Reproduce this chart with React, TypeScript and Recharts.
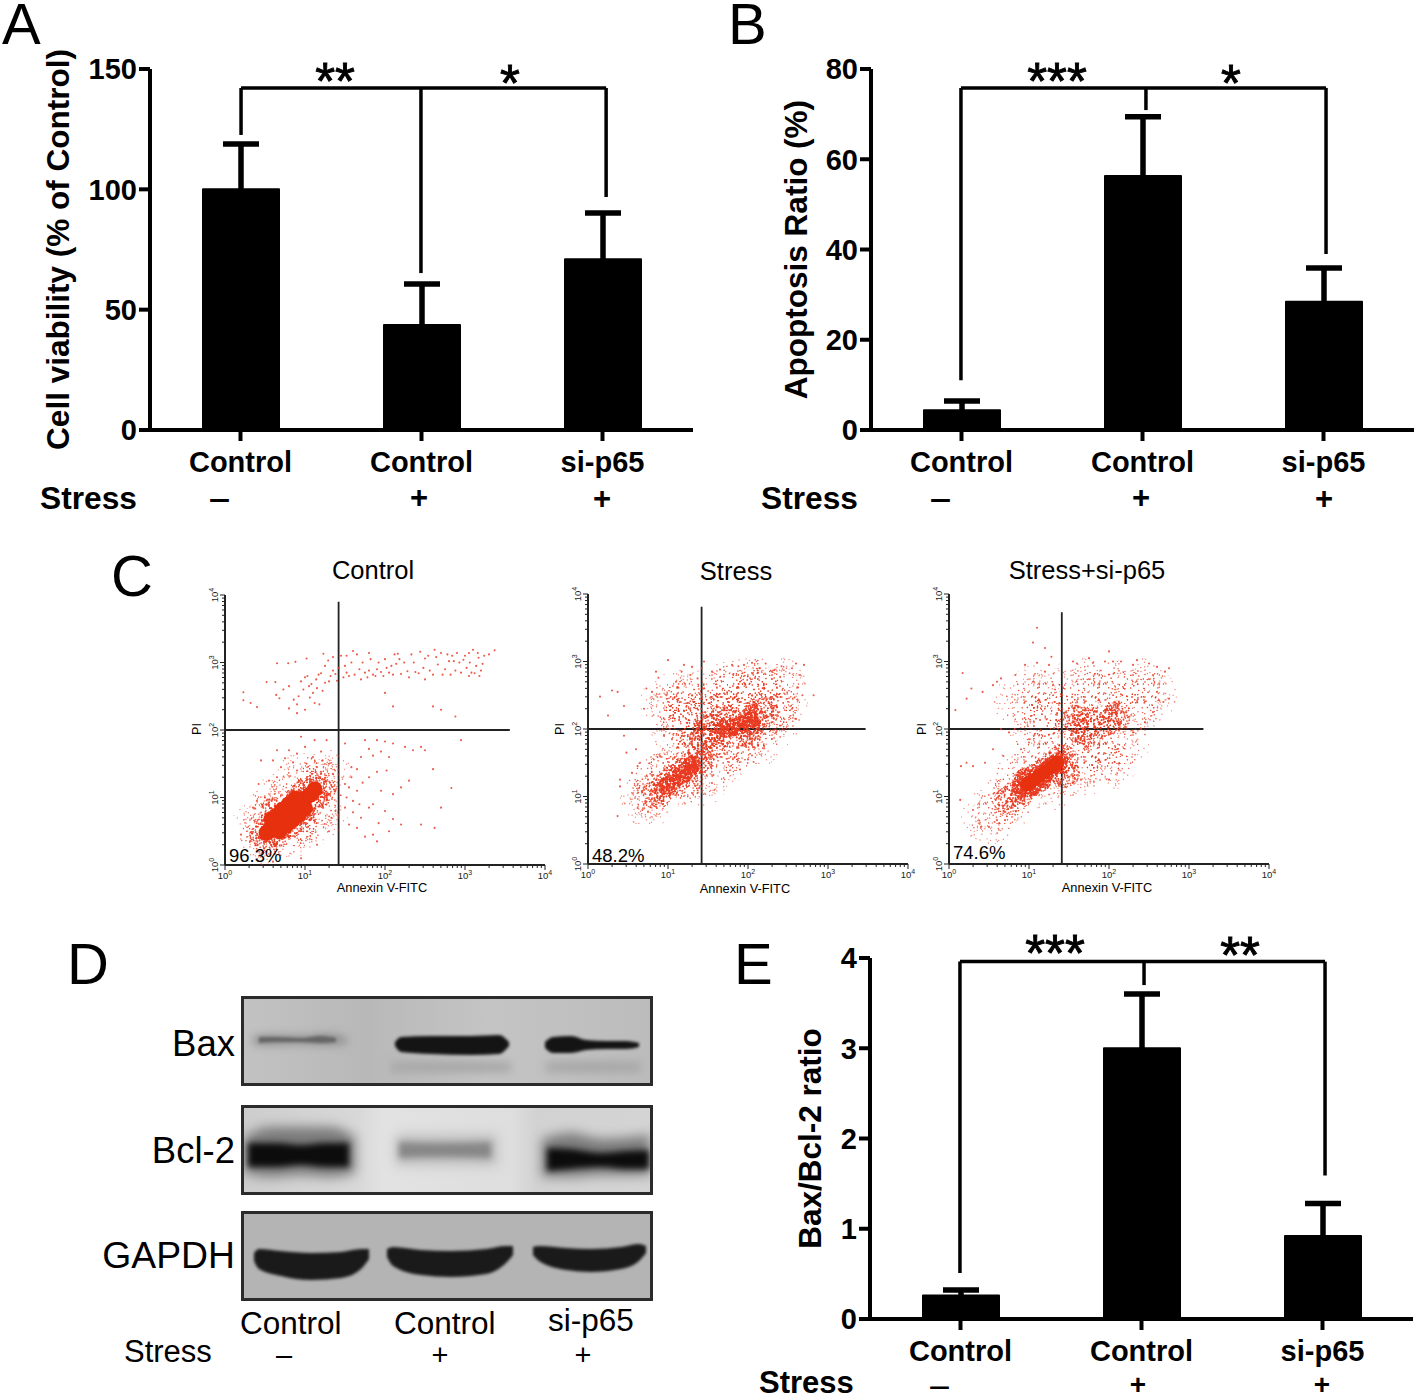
import React from 'react';
import { BarChart, Bar, XAxis, YAxis, ErrorBar, ReferenceLine, ScatterChart, Scatter, ComposedChart, Area } from 'recharts';

const FONT = '"Liberation Sans", Arial, sans-serif';

// ---------- bar panels ----------
const groupKeys = ['c1', 'c2', 'c3'];
const groupLabels = ['Control', 'Control', 'si-p65'];

const viabilityValues = [100, 43.6, 71];
const viabilityErrors = [18.8, 17.1, 19.2];
const viabilityTicks = [0, 50, 100, 150];
const viabilityBracket = { top: 142.1, xs: [0.503, 1.497, 2.52], drops: [122.6, 65.2, 96.8] };

const apoptosisValues = [4.4, 56.3, 28.4];
const apoptosisErrors = [2, 13.1, 7.5];
const apoptosisTicks = [0, 20, 40, 60, 80];
const apoptosisBracket = { top: 75.8, xs: [0.497, 1.519, 2.514], drops: [11, 70.9, 39] };

const ratioValues = [0.26, 3.0, 0.92];
const ratioErrors = [0.06, 0.6, 0.36];
const ratioTicks = [0, 1, 2, 3, 4];
const ratioBracket = { top: 3.96, xs: [0.497, 1.514, 2.514], drops: [0.51, 3.7, 1.59] };

// ---------- flow cytometry panels (log10 decades) ----------
const controlHaze = [[.55,.4],[.7,.55],[.85,.7],[1.0,.9],[1.15,1.15],[.45,.65],[.7,.95],[.95,1.25],[1.2,.8],[.95,.55],[1.25,1.3]];
const controlDense = [[.48,.4],[.55,.55],[.65,.48],[.7,.7],[.8,.62],[.85,.9],[.95,.8],[1.0,1.05],[1.1,.98],[1.15,1.15],[.62,.78]];
const controlCore = [[.52,.48],[.58,.54],[.64,.6],[.7,.66],[.76,.73],[.82,.8],[.88,.86],[.94,.92],[1.0,.98],[1.06,1.04],[1.12,1.12],[.58,.68],[.66,.74],[.72,.82],[.8,.9],[.88,.98],[.68,.5],[.76,.58],[.84,.66],[.92,.74],[1.0,.84]];
const controlDots = [
  [.23,2.56],[.23,2.44],[.32,2.4],[.4,2.34],[.52,2.71],[.63,2.71],[.65,2.99],[.79,2.99],[.88,3.01],[1.02,3.06],[1.23,3.13],[1.29,3.03],
  [.64,2.52],[.68,2.47],[.73,2.6],[.8,2.65],[.86,2.45],[.9,2.38],[.95,2.72],[1.0,2.78],[1.03,2.8],[1.08,2.68],[1.1,2.55],[1.12,2.4],
  [1.14,2.75],[1.17,2.82],[1.2,2.84],[1.25,2.7],[1.32,2.8],[1.38,2.83],[1.4,2.73],[1.45,3.1],[1.5,2.95],[1.55,2.8],[1.6,3.17],[1.65,3.12],
  [1.7,2.75],[1.75,2.85],[1.8,3.14],[1.85,2.82],[1.9,2.9],[1.95,2.86],[1.8,2.88],[2.0,3.05],[2.05,2.85],[2.08,2.95],[2.12,3.12],[2.16,3.13],
  [2.2,2.83],[2.28,2.87],[2.33,3.12],[2.38,2.86],[2.44,3.16],[2.5,3.06],[2.56,2.88],[2.62,3.19],[2.66,2.97],[2.7,3.14],[2.75,2.9],[2.8,3.02],
  [2.84,3.1],[2.88,2.88],[2.93,3.0],[2.98,3.04],[3.02,2.92],[3.05,3.14],[3.08,2.85],[3.1,3.19],[3.14,2.95],[3.17,3.07],[3.2,2.88],[3.24,3.1],
  [3.3,3.12],[3.05,2.8],[3.18,2.8],[3.37,3.18],[2.5,2.75],[2.0,2.55],[2.1,2.35],[2.6,2.35],[2.7,2.3],[2.88,2.2],[.8,2.32],[.9,2.25],[1.0,2.3],
  [1.35,2.88],[1.42,2.92],[1.48,2.78],[1.52,2.85],[1.58,3.0],[1.62,2.82],[1.68,2.9],[1.72,3.0],[1.78,2.78],[1.82,3.05],[1.88,2.8],[1.92,3.0],
  [1.98,2.8],[2.02,2.92],[2.1,2.82],[2.14,2.98],[2.18,3.05],[2.24,3.0],[2.3,2.78],[2.36,3.0],[2.42,2.84],[2.48,2.92],[2.54,3.1],[2.6,2.82],
  [2.64,3.08],[2.72,2.82],[2.78,3.12],[2.82,2.82],[2.86,3.02],[2.9,3.14],[2.95,2.85],[3.0,3.1],[3.06,3.0],[3.12,2.84],[3.16,3.14],[3.22,2.98],
  [1.05,2.65],[1.15,2.62],[1.22,2.58],[1.3,2.72],[.98,2.6],[.92,2.5],[1.06,2.48],[1.18,2.38],[1.25,2.95],[1.35,3.08],[1.52,3.1],
  // lower right
  [1.5,1.8],[1.75,1.85],[1.8,1.72],[1.9,1.85],[2.0,1.83],[2.1,1.8],[2.25,1.75],[2.35,1.7],[2.45,1.75],[2.5,1.7],[2.95,1.85],[1.7,1.6],[1.85,1.62],
  [1.95,1.68],[2.05,1.6],[1.58,1.45],[1.65,1.42],[1.8,1.3],[1.9,1.38],[2.02,1.4],[1.5,1.2],[1.55,1.15],[1.65,1.1],[1.72,1.22],[1.95,1.1],[2.1,1.05],
  [2.2,1.15],[2.3,1.25],[2.6,1.42],[2.83,1.14],[1.5,.85],[1.6,.78],[1.7,.7],[1.8,.85],[1.85,.9],[2.0,.8],[2.1,.68],[2.2,.6],[2.45,.6],[2.62,.55],
  [2.7,.85],[1.55,.6],[1.65,.55],[1.75,.42],[1.85,.45],[1.9,.35],[2.05,.5],[1.52,1.0],[1.6,.95],[1.58,1.3],[1.68,.9],[1.92,.62],
  // lower left
  [.65,1.7],[.8,1.7],[.9,1.65],[1.0,1.75],[1.1,1.6],[1.2,1.68],[1.27,1.85],[1.12,1.85],[.95,1.9],[.45,1.55],[.7,1.45],[.9,1.4],[1.15,1.45],
  [1.3,1.5],[1.38,1.1],[1.33,.7],[1.3,.5],[1.15,.3],[.95,.1],[.6,.05],[.32,.4],[.2,.45],[1.2,1.35],[1.3,1.05],[1.38,.8],[.35,.85],[.4,.95],[.5,1.0],
  [.6,1.55],[.75,1.58],[.85,1.52],[1.02,1.5],[1.22,1.55],[1.35,1.35],[.55,1.25],[.65,1.3],[.42,1.2],
];

const stressHaze = [[1.0,2.4],[1.2,2.5],[1.3,2.25],[1.1,2.1],[1.45,2.0],[1.6,2.55],[1.8,2.6],[2.0,2.65],[2.2,2.65],[2.4,2.65],[2.4,2.35],[2.1,2.3],[1.8,2.3],[1.55,2.3],[2.3,2.1],[1.5,1.65],[1.7,1.6],[1.85,1.75],[2.1,1.85],[1.1,1.6],[1.2,1.25],[.95,1.35],[.75,.95],[.85,1.15],[1.4,1.25],[1.35,1.8]];
const stressDense = [[.85,1.03],[.97,1.14],[1.08,1.25],[1.2,1.35],[1.32,1.48],[1.4,1.58],[1.45,1.85],[1.6,1.9],[1.75,1.95],[1.9,2.05],[2.05,2.15],[2.2,2.25],[1.7,2.15],[2.0,1.9],[1.5,2.05]];
const stressCore = [[.98,1.15],[1.06,1.22],[1.14,1.3],[1.22,1.37],[1.3,1.47],[1.72,2.0],[1.8,2.02],[1.88,2.05],[1.97,2.1],[2.04,2.14]];
const stressDots = [
  [.15,2.48],[.3,2.57],[.37,2.55],[.45,2.34],[.7,2.3],[.73,2.6],[.8,2.55],[.85,2.85],[.88,2.76],[.98,2.5],[1.0,3.02],[1.1,2.7],[1.17,2.85],[1.2,2.95],
  [1.28,2.8],[1.3,2.92],[1.37,2.75],[1.42,2.9],[1.45,3.0],[1.55,2.85],[1.65,2.88],[1.8,2.95],[1.88,2.93],[1.95,2.95],[2.05,2.98],[2.15,2.9],[2.22,2.97],
  [2.3,2.85],[2.42,2.93],[2.55,2.9],[2.6,2.97],[2.7,2.95],[2.65,2.8],[2.68,2.5],[2.82,2.5],[2.55,2.3],[2.6,2.15],[2.4,2.05],[2.35,1.95],[2.2,1.75],[2.0,1.55],
  [1.9,1.4],[1.75,1.35],[1.55,1.2],[1.42,1.15],[.45,1.9],[.6,1.7],[.65,1.5],[.55,1.35],[.4,1.25],[.37,.71],[.68,.8],[.75,.77],[.62,.83],[.85,.85],[.9,1.6],
  [.95,1.9],[1.05,1.85],[1.18,1.9],[1.25,1.75],[1.02,2.0],[.75,1.25],[.62,1.45],[.48,1.65],[.25,2.2],[.4,1.15],
];

const comboHaze = [[1.1,2.55],[.9,2.4],[1.25,2.3],[1.05,2.1],[1.6,2.65],[1.85,2.6],[2.1,2.6],[2.35,2.65],[2.5,2.5],[2.3,2.25],[1.55,2.35],[1.4,1.95],[1.65,1.75],[1.9,1.7],[2.15,1.75],[2.0,1.5],[1.65,1.4],[1.15,1.65],[1.25,1.2],[.95,1.4],[.7,.85],[.5,.7],[.82,1.1]];
const comboDense = [[.75,.95],[.87,1.05],[.98,1.17],[1.1,1.27],[1.22,1.38],[1.34,1.48],[1.42,1.55],[1.65,2.0],[1.8,2.1],[1.95,2.12],[2.1,2.2],[1.6,2.15],[1.75,1.9],[1.45,1.35]];
const comboCore = [[.9,1.12],[.98,1.18],[1.05,1.24],[1.12,1.3],[1.2,1.36],[1.28,1.44],[1.36,1.5],[1.03,1.15],[1.15,1.22],[.95,1.28]];
const comboSolid = [[.98,1.18],[1.05,1.24],[1.12,1.3],[1.2,1.37],[1.28,1.44],[1.35,1.5]];
const comboDots = [
  [.17,2.83],[.08,2.28],[.22,2.45],[.28,2.6],[.42,2.55],[.6,2.7],[.55,2.65],[.65,2.75],[.83,2.8],[.95,2.95],[1.1,2.98],[1.25,2.95],[1.1,3.5],[1.05,3.28],
  [1.2,3.2],[1.28,3.07],[1.05,2.7],[1.2,2.85],[1.3,2.65],[1.55,3.0],[1.6,2.97],[1.75,3.05],[1.8,2.98],[1.95,3.0],[2.0,3.15],[2.05,3.0],[2.15,3.0],[2.3,2.95],
  [2.35,3.02],[2.5,2.97],[2.6,2.92],[2.7,2.85],[2.55,2.8],[2.75,2.9],[2.6,2.55],[2.68,2.4],[2.75,2.45],[2.55,2.25],[2.45,2.1],[2.4,2.0],[2.3,1.95],[2.0,1.25],[1.65,1.25],
  [1.55,1.2],[.75,1.95],[.65,2.0],[.3,1.45],[.22,1.5],[.15,1.45],[.14,.95],[.45,1.5],[.55,1.7],[.68,1.6],[.4,.55],[.5,.55],[.38,.6],[.6,.65],[.7,.65],[.82,2.0],[1.0,1.8],[.9,1.7],[.3,.8],
];

const controlGate = { x: 1.42, yTop: 3.9, xEnd: 3.56 };
const stressGate = { x: 1.42, yTop: 3.81, xEnd: 3.47 };
const comboGate = { x: 1.41, yTop: 3.73, xEnd: 3.18 };

// ---------- blot bands: [lane position, upper edge, lower edge] ----------
const baxLane1Halo = [[[12,41,48],[30,39,49],[60,40,48],[85,38,49],[106,42,47]]];
const baxLane1 = [[[18,41,47],[35,41,46],[60,42,46],[80,40,47],[95,42,46]]];
const baxFaint = [
  [[150,66,76],[210,65,77],[270,66,76]],
  [[305,66,76],[350,65,77],[400,66,76]],
];
const baxStrong = [
  [[154,46,50],[160,41,56],[190,40,58],[230,40,59],[258,39,58],[268,46,50]],
  [[304,46,52],[312,41,57],[330,40,57],[345,44,54],[365,45,53],[385,45,53],[398,47,51]],
];
const bclDarkHalo = [
  [[3,32,68],[30,22,72],[60,22,70],[90,22,72],[114,32,68]],
  [[301,34,72],[330,28,72],[360,34,70],[409,30,70]],
];
const bclDark = [
  [[7,38,62],[35,38,62],[60,40,60],[85,38,62],[108,38,62]],
  [[306,43,66],[330,44,64],[360,48,62],[385,46,64],[408,45,64]],
];
const bclPaleHalo = [[[155,30,60],[205,30,60],[256,30,60]]];
const bclPale = [[[158,37,53],[200,38,52],[250,37,53]]];
const gapdhStrong = [
  [[13,42,50],[18,38,58],[40,40,65],[70,42,69],[100,41,67],[120,38,58],[128,38,48]],
  [[146,38,46],[152,36,55],[180,39,64],[210,40,66],[245,38,63],[265,35,52],[272,35,44]],
  [[292,36,44],[298,35,50],[325,37,59],[350,38,61],[380,36,58],[398,33,50],[405,35,42]],
];

const axisStyle = { stroke: '#000', strokeWidth: 4 };

type BarPanelProps = { left: number; top: number; values: number[]; errors: number[]; ticks: number[]; bracket: { top: number; xs: number[]; drops: number[] }; label: string; labelOffset: number };

function BarPanel({ left, top, values, errors, ticks, bracket, label, labelOffset }: BarPanelProps) {
  const data = groupKeys.map((k, i) => ({ key: k, value: values[i], err: errors[i], bracketX: bracket.xs[i] }));
  const line = { stroke: '#000', strokeWidth: 3.5, xAxisId: 'bracket' };
  return (
    <div style={{ position: 'absolute', left, top }}>
      <BarChart width={700} height={460} data={data} margin={{ top: 29, right: 7, bottom: 0, left: 0 }}>
        <XAxis dataKey="key" height={70} axisLine={axisStyle} tickLine={axisStyle} tickSize={11} tickMargin={10} interval={0}
          tickFormatter={(k: string) => groupLabels[groupKeys.indexOf(k)]}
          tick={{ fontSize: 29, fontWeight: 700, fontFamily: FONT, fill: '#000' }} />
        <XAxis xAxisId="bracket" dataKey="bracketX" type="number" domain={[0, 3]} allowDataOverflow hide />
        <YAxis width={150} domain={[ticks[0], ticks[ticks.length - 1]]} ticks={ticks} interval={0} axisLine={axisStyle} tickLine={axisStyle} tickSize={11} tickMargin={2}
          tick={{ fontSize: 29, fontWeight: 700, fontFamily: FONT, fill: '#000' }}
          label={{ value: label, angle: -90, position: 'insideLeft', offset: labelOffset, style: { textAnchor: 'middle', fontSize: 31.5, fontWeight: 700, fontFamily: FONT, fill: '#000' } }} />
        <Bar dataKey="value" fill="#000" stroke="#000" strokeWidth={2} strokeLinejoin="round" barSize={76} isAnimationActive={false}>
          <ErrorBar dataKey="err" direction="y" width={18} stroke="#000" strokeWidth={5.5} isAnimationActive={false} />
        </Bar>
        <ReferenceLine segment={[{ x: bracket.xs[0], y: bracket.top }, { x: bracket.xs[2], y: bracket.top }]} {...line} />
        {bracket.xs.map((x, i) => (
          <ReferenceLine key={i} segment={[{ x, y: bracket.top }, { x, y: bracket.drops[i] }]} {...line} />
        ))}
      </BarChart>
    </div>
  );
}

const flowTicks: number[] = [];
[0, 1, 2, 3].forEach((d) => {
  [1, 2, 3, 4, 5, 6, 7, 8, 9].forEach((m) => flowTicks.push(d + Math.log10(m)));
});
flowTicks.push(4);

const FlowXTick = ({ x, y, payload }: any) => {
  const major = Number.isInteger(payload.value);
  return (
    <g>
      <line x1={x} x2={x} y1={y} y2={y + (major ? 5 : 3)} stroke="#222" strokeWidth={1} />
      {major && <text x={x} y={y + 14} fontSize={9.5} textAnchor="middle" fontFamily={FONT} fill="#222">10<tspan dy={-4} fontSize={7}>{payload.value}</tspan></text>}
    </g>
  );
};
const FlowYTick = ({ x, y, payload }: any) => {
  const major = Number.isInteger(payload.value);
  return (
    <g>
      <line x1={x} x2={x - (major ? 5 : 3)} y1={y} y2={y} stroke="#222" strokeWidth={1} />
      {major && <text transform={`translate(${x - 7},${y}) rotate(-90)`} fontSize={9.5} textAnchor="middle" fontFamily={FONT} fill="#222">10<tspan dy={-4} fontSize={7}>{payload.value}</tspan></text>}
    </g>
  );
};

const toPoints = (a: number[][]) => a.map(([x, y]) => ({ x, y }));
const circle = (r: number, fill: string, opacity = 1) => (p: any) => <circle cx={p.cx} cy={p.cy} r={r} fill={fill} opacity={opacity} />;

type FlowProps = { left: number; top: number; haze: number[][]; hazeFill: string; dense: number[][]; core: number[][]; solid?: number[][]; dots: number[][]; gate: { x: number; yTop: number; xEnd: number }; coreR: number; coreFill: string };
function FlowPanel({ left, top, haze, hazeFill, dense, core, solid, dots, gate, coreR, coreFill }: FlowProps) {
  const flowAxis = { stroke: '#222', strokeWidth: 2 };
  const gateLine = { stroke: '#222', strokeWidth: 1.8 };
  return (
    <div style={{ position: 'absolute', left: left - 40, top: top - 10 }}>
      <ScatterChart width={375} height={310} margin={{ top: 10, right: 15, bottom: 0, left: 0 }}>
        <XAxis type="number" dataKey="x" domain={[0, 4]} ticks={flowTicks} interval={0} height={30} axisLine={flowAxis} tickLine={false} tickSize={0} tickMargin={0} tick={FlowXTick} />
        <YAxis type="number" dataKey="y" domain={[0, 4]} ticks={flowTicks} interval={0} width={40} axisLine={flowAxis} tickLine={false} tickSize={0} tickMargin={0} tick={FlowYTick} />
        <Scatter data={toPoints(haze)} isAnimationActive={false} shape={circle(28, 'url(#stippleFringe)')} />
        <Scatter data={toPoints(haze)} isAnimationActive={false} shape={circle(19, hazeFill)} />
        <Scatter data={toPoints(dense)} isAnimationActive={false} shape={circle(15, 'url(#stippleDense)')} />
        <Scatter data={toPoints(core)} isAnimationActive={false} shape={circle(coreR, coreFill)} />
        {solid && <Scatter data={toPoints(solid)} isAnimationActive={false} shape={circle(7, '#e6300e')} />}
        <Scatter data={toPoints(dots)} isAnimationActive={false} shape={circle(1.05, '#e8402a', 0.85)} />
        <ReferenceLine segment={[{ x: gate.x, y: 0 }, { x: gate.x, y: gate.yTop }]} {...gateLine} />
        <ReferenceLine segment={[{ x: 0, y: 2 }, { x: gate.xEnd, y: 2 }]} {...gateLine} />
      </ScatterChart>
    </div>
  );
}

const toBand = (a: number[][]) => a.map(([x, top, bottom]) => ({ x, r: [top, bottom] }));

type BlotLayer = { bands: number[][][]; fill: string; blur: string };
function Blot({ left, top, background, layers }: { left: number; top: number; background: string; layers: BlotLayer[] }) {
  return (
    <div style={{ position: 'absolute', left, top, width: 412, height: 90, boxSizing: 'border-box', border: '3px solid #2b2b2b', background, overflow: 'hidden' }}>
      <div style={{ position: 'absolute', left: -3, top: -3 }}>
        <ComposedChart width={412} height={90} margin={{ top: 0, right: 0, bottom: 0, left: 0 }}>
          <XAxis type="number" dataKey="x" domain={[0, 412]} hide />
          <YAxis type="number" domain={[0, 90]} reversed hide />
          {layers.map((l, i) =>
            l.bands.map((b, j) => (
              <Area key={`${i}-${j}`} data={toBand(b)} dataKey="r" type="monotone" fill={l.fill} fillOpacity={1} stroke="none" dot={false} activeDot={false} className={l.blur} isAnimationActive={false} />
            ))
          )}
        </ComposedChart>
      </div>
    </div>
  );
}

// stipple tiles are only a texture for the dense regions of the cytometry clouds, not chart data
const hash = (n: number) => {
  const v = Math.sin(n * 12.9898) * 43758.5453;
  return v - Math.floor(v);
};
const stippleTile = (count: number, shift: number) => {
  const out: number[][] = [];
  for (let i = 1; i <= count; i++) out.push([hash(i + shift) * 60, hash(i * 1.7 + shift + 91.3) * 60]);
  return out;
};
const stippleLayers = [
  { id: 'stippleFringe', count: 110, shift: 13, r: 0.7, opacity: 0.6 },
  { id: 'stippleLight', count: 170, shift: 57, r: 0.72, opacity: 0.65 },
  { id: 'stippleSparse', count: 270, shift: 41, r: 0.72, opacity: 0.7 },
  { id: 'stippleDense', count: 650, shift: 77, r: 0.85, opacity: 0.85 },
  { id: 'stippleCore', count: 1500, shift: 29, r: 0.95, opacity: 0.95 },
];

type TProps = { x: number; y: number; s: number; b?: boolean; a?: 'start' | 'middle' | 'end'; w?: number; heavy?: boolean; children: React.ReactNode };
const T = ({ x, y, s, b, a, w, heavy, children }: TProps) => (
  <text x={x} y={y} fontSize={s} fontWeight={b ? 700 : 400} textAnchor={a || 'start'} fontFamily={FONT} fill="#000"
    textLength={w} lengthAdjust={w ? 'spacingAndGlyphs' : undefined} stroke={heavy ? '#000' : undefined} strokeWidth={heavy ? 0.9 : undefined}>{children}</text>
);

export default function App() {
  return (
    <div style={{ position: 'absolute', left: 0, top: 0, width: 1418, height: 1400, background: '#fff', overflow: 'hidden' }}>
      <style>{`.b2{filter:blur(1.6px)}.b3{filter:blur(3px)}.b4{filter:blur(4px)}.b6{filter:blur(6px)}`}</style>
      <svg width={0} height={0} style={{ position: 'absolute' }}>
        <defs>
          {stippleLayers.map((p) => (
            <pattern key={p.id} id={p.id} patternUnits="userSpaceOnUse" width={60} height={60}>
              {stippleTile(p.count, p.shift).map(([x, y], i) => <circle key={i} cx={x} cy={y} r={p.r} fill="#e8381e" opacity={p.opacity} />)}
            </pattern>
          ))}
        </defs>
      </svg>

      <BarPanel left={0} top={40} values={viabilityValues} errors={viabilityErrors} ticks={viabilityTicks} bracket={viabilityBracket} label="Cell viability (% of Control)" labelOffset={58} />
      <BarPanel left={721} top={40} values={apoptosisValues} errors={apoptosisErrors} ticks={apoptosisTicks} bracket={apoptosisBracket} label="Apoptosis Ratio (%)" labelOffset={75} />
      <BarPanel left={720} top={928.5} values={ratioValues} errors={ratioErrors} ticks={ratioTicks} bracket={ratioBracket} label="Bax/Bcl-2 ratio" labelOffset={90} />

      <FlowPanel left={225} top={595} haze={controlHaze} hazeFill="url(#stippleSparse)" dense={controlDense} core={controlCore} dots={controlDots} gate={controlGate} coreR={8} coreFill="#e6300e" />
      <FlowPanel left={588} top={594} haze={stressHaze} hazeFill="url(#stippleSparse)" dense={stressDense} core={stressCore} dots={stressDots} gate={stressGate} coreR={9} coreFill="url(#stippleCore)" />
      <FlowPanel left={949} top={594} haze={comboHaze} hazeFill="url(#stippleLight)" dense={comboDense} core={comboCore} solid={comboSolid} dots={comboDots} gate={comboGate} coreR={10} coreFill="url(#stippleCore)" />

      <Blot left={241} top={996} background="linear-gradient(90deg,#c2c2c2,#b8b8b8 30%,#c4c4c4 60%,#bcbcbc)" layers={[
        { bands: baxFaint, fill: '#a8a8a8', blur: 'b4' },
        { bands: baxLane1Halo, fill: '#8d8d8d', blur: 'b4' },
        { bands: baxLane1, fill: '#666666', blur: 'b2' },
        { bands: baxStrong, fill: '#141414', blur: 'b2' },
      ]} />
      <Blot left={241} top={1105} background="linear-gradient(90deg,#cdcdcd,#d8d8d8 28%,#e2e2e2 34%,#dedede 66%,#d2d2d2 72%,#d4d4d4)" layers={[
        { bands: bclPaleHalo, fill: '#bcbcbc', blur: 'b6' },
        { bands: bclDarkHalo, fill: '#7a7a7a', blur: 'b6' },
        { bands: bclPale, fill: '#878787', blur: 'b3' },
        { bands: bclDark, fill: '#0c0c0c', blur: 'b3' },
      ]} />
      <Blot left={241} top={1211} background="#b4b4b4" layers={[
        { bands: gapdhStrong, fill: '#1a1a1a', blur: 'b2' },
      ]} />

      <svg width={1418} height={1400} style={{ position: 'absolute', left: 0, top: 0, pointerEvents: 'none' }}>
        <T x={2} y={44} s={58}>A</T>
        <T x={728} y={44} s={58}>B</T>
        <T x={111} y={596} s={58}>C</T>
        <T x={67} y={984} s={58}>D</T>
        <T x={734} y={984} s={58}>E</T>

        <T x={335} y={99} s={51} heavy a="middle">**</T>
        <T x={510} y={101} s={51} heavy a="middle">*</T>
        <T x={1057} y={99} s={51} heavy a="middle">***</T>
        <T x={1231} y={101} s={51} heavy a="middle">*</T>
        <T x={1055} y={971} s={51} heavy a="middle">***</T>
        <T x={1240} y={973} s={51} heavy a="middle">**</T>

        <T x={40} y={509} s={31.7} b>Stress</T>
        <T x={209} y={509} s={31} b w={21}>–</T>
        <T x={419} y={508} s={31} b a="middle">+</T>
        <T x={602} y={509} s={31} b a="middle">+</T>
        <T x={761} y={509} s={31.7} b>Stress</T>
        <T x={930} y={509} s={31} b w={21}>–</T>
        <T x={1141} y={508} s={31} b a="middle">+</T>
        <T x={1324} y={509} s={31} b a="middle">+</T>
        <T x={759} y={1393} s={31} b>Stress</T>
        <T x={929} y={1394.5} s={26} b w={21}>–</T>
        <T x={1138} y={1394} s={28} b a="middle">+</T>
        <T x={1322} y={1394} s={28} b a="middle">+</T>

        <T x={373} y={579} s={25.5} a="middle">Control</T>
        <T x={736} y={580} s={25.5} a="middle">Stress</T>
        <T x={1087} y={579} s={25.5} a="middle">Stress+si-p65</T>
        <T x={382} y={892} s={12.8} a="middle">Annexin V-FITC</T>
        <T x={745} y={893} s={12.8} a="middle">Annexin V-FITC</T>
        <T x={1107} y={892} s={12.8} a="middle">Annexin V-FITC</T>
        <g transform="translate(201,729) rotate(-90)"><T x={0} y={0} s={12.5} a="middle">PI</T></g>
        <g transform="translate(564,729) rotate(-90)"><T x={0} y={0} s={12.5} a="middle">PI</T></g>
        <g transform="translate(926,729) rotate(-90)"><T x={0} y={0} s={12.5} a="middle">PI</T></g>
        <T x={229} y={862} s={18.5}>96.3%</T>
        <T x={592} y={862} s={18.5}>48.2%</T>
        <T x={953} y={859} s={18.5}>74.6%</T>

        <T x={235} y={1056} s={36.5} a="end">Bax</T>
        <T x={235} y={1163} s={36.5} a="end">Bcl-2</T>
        <T x={235} y={1268} s={37.3} a="end">GAPDH</T>
        <T x={240} y={1334} s={31.5}>Control</T>
        <T x={394} y={1334} s={31.5}>Control</T>
        <T x={548} y={1331} s={31.5}>si-p65</T>
        <T x={124} y={1362} s={31}>Stress</T>
        <T x={284} y={1365} s={29} a="middle">–</T>
        <T x={440} y={1365} s={29} a="middle">+</T>
        <T x={583} y={1365} s={29} a="middle">+</T>
      </svg>
    </div>
  );
}
